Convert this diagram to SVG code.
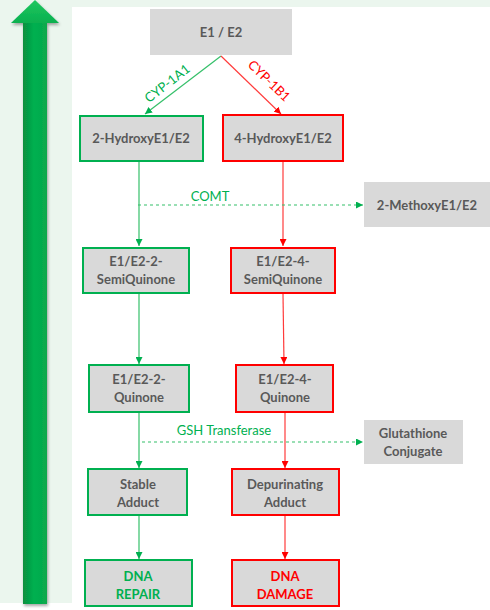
<svg xmlns="http://www.w3.org/2000/svg" width="490" height="610" viewBox="0 0 490 610">
  <defs>
    <linearGradient id="shaftGrad" x1="0" y1="0" x2="1" y2="0">
      <stop offset="0" stop-color="#0a8f3f"/>
      <stop offset="0.45" stop-color="#00b050"/>
      <stop offset="1" stop-color="#0aa84c"/>
    </linearGradient>
    <linearGradient id="headGrad" x1="0" y1="0" x2="0" y2="1">
      <stop offset="0" stop-color="#1fc760"/>
      <stop offset="1" stop-color="#08b04f"/>
    </linearGradient>
    <filter id="shadow" x="-50%" y="-5%" width="200%" height="110%">
      <feGaussianBlur in="SourceAlpha" stdDeviation="1.5"/>
      <feOffset dx="1" dy="2" result="b"/>
      <feComponentTransfer><feFuncA type="linear" slope="0.35"/></feComponentTransfer>
      <feMerge><feMergeNode/><feMergeNode in="SourceGraphic"/></feMerge>
    </filter>
    <marker id="arrG" viewBox="0 0 10 10" refX="10" refY="5" markerWidth="7" markerHeight="7" markerUnits="userSpaceOnUse" orient="auto">
      <path d="M0,0 L10,5 L0,10 z" fill="#00b050"/>
    </marker>
    <marker id="arrR" viewBox="0 0 10 10" refX="10" refY="5" markerWidth="7" markerHeight="7" markerUnits="userSpaceOnUse" orient="auto">
      <path d="M0,0 L10,5 L0,10 z" fill="#ff0000"/>
    </marker>
  </defs>
  <style>
    .box { fill: #d9d9d9; }
    .g { stroke: #00b050; stroke-width: 2; }
    .r { stroke: #ff0000; stroke-width: 2; }
    .t { font-family: "Lato", "Liberation Sans", sans-serif; font-weight: bold; font-size: 13px; fill: #595959; text-anchor: middle; }
    .tg { fill: #00b050; }
    .tr { fill: #ff0000; }
    .lbl { font-family: "Lato", "Liberation Sans", sans-serif; font-size: 13px; text-anchor: middle; }
    .lg { stroke: #35c06a; stroke-width: 1.2; fill: none; }
    .lr { stroke: #ff3b3b; stroke-width: 1.2; fill: none; }
    .dash { stroke: #35c06a; stroke-width: 1.2; stroke-dasharray: 3 3; fill: none; }
  </style>

  <!-- page background and white panel -->
  <rect x="0" y="0" width="490" height="610" fill="#ffffff"/>
  <rect x="0" y="0" width="490" height="603" fill="#ebf6ee"/>
  <rect x="72" y="7" width="418" height="596" fill="#ffffff"/>

  <!-- large upward arrow -->
  <g id="bigArrow" filter="url(#shadow)">
    <rect x="23" y="22" width="24" height="582" fill="url(#shaftGrad)"/>
    <path d="M35,0 L59,23 L11,23 z" fill="url(#headGrad)"/>
  </g>

  <!-- connectors -->
  <g id="connectors">
    <line class="lg" x1="221" y1="56" x2="145" y2="114" marker-end="url(#arrG)"/>
    <line class="lr" x1="221" y1="56" x2="281" y2="114" marker-end="url(#arrR)"/>
    <text class="lbl tg" transform="translate(170,87) rotate(-38)">CYP-1A1</text>
    <text class="lbl tr" transform="translate(266,84) rotate(44)">CYP-1B1</text>

    <line class="lg" x1="139" y1="162" x2="139" y2="246" marker-end="url(#arrG)"/>
    <line class="lr" x1="283" y1="162" x2="283" y2="246" marker-end="url(#arrR)"/>

    <line class="dash" x1="138" y1="205" x2="363" y2="205" marker-end="url(#arrG)"/>
    <text class="lbl tg" x="210" y="201">COMT</text>

    <line class="lg" x1="139" y1="294" x2="139" y2="364" marker-end="url(#arrG)"/>
    <line class="lr" x1="283" y1="294" x2="284" y2="364" marker-end="url(#arrR)"/>

    <line class="lg" x1="139" y1="413" x2="139" y2="468" marker-end="url(#arrG)"/>
    <line class="lr" x1="285" y1="413" x2="285" y2="468" marker-end="url(#arrR)"/>

    <line class="dash" x1="142" y1="442" x2="363" y2="442" marker-end="url(#arrG)"/>
    <text class="lbl tg" x="224" y="435">GSH Transferase</text>

    <line class="lg" x1="139" y1="516" x2="139" y2="559" marker-end="url(#arrG)"/>
    <line class="lr" x1="285" y1="516" x2="285" y2="559" marker-end="url(#arrR)"/>
  </g>

  <!-- nodes -->
  <g id="e1e2">
    <rect class="box" x="150" y="9" width="142" height="46"/>
    <text class="t" x="221" y="37">E1 / E2</text>
  </g>
  <g id="hydroxy2">
    <rect class="box g" x="80" y="116" width="123" height="45"/>
    <text class="t" x="141" y="143">2-HydroxyE1/E2</text>
  </g>
  <g id="hydroxy4">
    <rect class="box r" x="223" y="115" width="120" height="46"/>
    <text class="t" x="283" y="143">4-HydroxyE1/E2</text>
  </g>
  <g id="methoxy2">
    <rect class="box" x="364" y="182" width="126" height="45"/>
    <text class="t" x="427" y="210">2-MethoxyE1/E2</text>
  </g>
  <g id="semiquinone2">
    <rect class="box g" x="83" y="248" width="106" height="45"/>
    <text class="t" x="136" y="266">E1/E2-2-</text>
    <text class="t" x="136" y="284">SemiQuinone</text>
  </g>
  <g id="semiquinone4">
    <rect class="box r" x="231" y="248" width="104" height="45"/>
    <text class="t" x="283" y="266">E1/E2-4-</text>
    <text class="t" x="283" y="284">SemiQuinone</text>
  </g>
  <g id="quinone2">
    <rect class="box g" x="89" y="365" width="100" height="47"/>
    <text class="t" x="139" y="384">E1/E2-2-</text>
    <text class="t" x="139" y="402">Quinone</text>
  </g>
  <g id="quinone4">
    <rect class="box r" x="236" y="365" width="97" height="47"/>
    <text class="t" x="285" y="384">E1/E2-4-</text>
    <text class="t" x="285" y="402">Quinone</text>
  </g>
  <g id="glutathione">
    <rect class="box" x="364" y="420" width="99" height="44"/>
    <text class="t" x="413" y="438">Glutathione</text>
    <text class="t" x="413" y="456">Conjugate</text>
  </g>
  <g id="stableAdduct">
    <rect class="box g" x="88" y="469" width="99" height="46"/>
    <text class="t" x="138" y="489">Stable</text>
    <text class="t" x="138" y="507">Adduct</text>
  </g>
  <g id="depurinatingAdduct">
    <rect class="box r" x="232" y="469" width="107" height="46"/>
    <text class="t" x="285" y="489">Depurinating</text>
    <text class="t" x="285" y="507">Adduct</text>
  </g>
  <g id="dnaRepair">
    <rect class="box g" x="85" y="560" width="107" height="46"/>
    <text class="t tg" x="138" y="581">DNA</text>
    <text class="t tg" x="138" y="599">REPAIR</text>
  </g>
  <g id="dnaDamage">
    <rect class="box r" x="232" y="560" width="107" height="46"/>
    <text class="t tr" x="285" y="581">DNA</text>
    <text class="t tr" x="285" y="599">DAMAGE</text>
  </g>
</svg>
